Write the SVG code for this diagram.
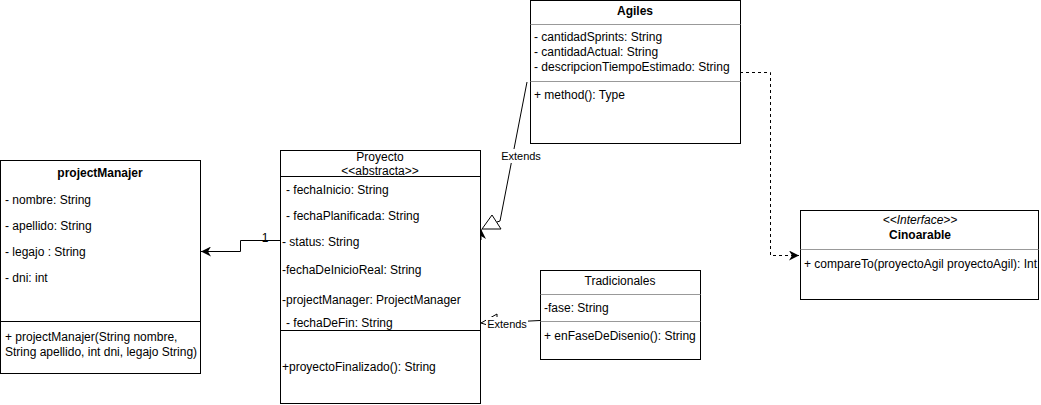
<svg xmlns="http://www.w3.org/2000/svg" width="1041" height="405" viewBox="0 0 1041 405">
<style>
text{font-family:"Liberation Sans",Arial,sans-serif;font-size:12px;fill:#000}
.b{font-weight:bold}
.c{text-anchor:middle}
.i{font-style:italic}
.box{fill:#fff;stroke:#000;stroke-width:1}
.sep{stroke:#999;stroke-width:1}
.sepk{stroke:#000;stroke-width:1}
.ln{fill:none;stroke:#000;stroke-width:1}
.lbl{font-size:11px}
</style>
<defs>
<marker id="arr" viewBox="0 0 10 10" refX="10" refY="5" markerWidth="10" markerHeight="10" markerUnits="userSpaceOnUse" orient="auto">
<path d="M0,0 L10,5 L0,10 L3,5 Z" fill="#000"/>
</marker>
</defs>
<rect width="1041" height="405" fill="#fff"/>
<g id="connectors">
<polyline class="ln" points="280,240.5 240.5,240.5 240.5,251.5 201,251.5" marker-end="url(#arr)"/>
<text x="265" y="242" class="c">1</text>
<polyline class="ln" points="740,72.5 770.5,72.5 770.5,255.5 799,255.5" stroke-dasharray="3,3" marker-end="url(#arr)"/>
<line class="ln" x1="481" y1="240" x2="481" y2="229" marker-end="url(#arr)"/>
<polyline class="ln" points="527,82 500,221 497,222"/>
<polygon points="482,229 492,215 501,229" fill="#fff" stroke="#000"/>
<rect x="501" y="149" width="41" height="14" fill="#fff"/>
<text x="521" y="160" class="c lbl">Extends</text>
<line class="ln" x1="540" y1="320.5" x2="520" y2="321.5"/>
<polygon points="481,323 497,314 497,328" fill="#fff" stroke="#000"/>
<rect x="486" y="317" width="42" height="14" fill="#fff"/>
<text x="507" y="328" class="c lbl">Extends</text>
</g>
<g id="projectManajer">
<rect class="box" x="0.5" y="160.5" width="200" height="213"/>
<text x="100" y="177" class="c b">projectManajer</text>
<text x="5" y="204">- nombre: String</text>
<text x="5" y="230">- apellido: String</text>
<text x="5" y="256">- legajo : String</text>
<text x="5" y="282">- dni: int</text>
<line class="sepk" x1="0.5" y1="321.5" x2="200.5" y2="321.5"/>
<text x="5" y="341">+ projectManajer(String nombre,</text>
<text x="5" y="356">String apellido, int dni, legajo String)</text>
</g>
<g id="Proyecto">
<rect class="box" x="280.5" y="150.5" width="200" height="253"/>
<text x="380" y="161" class="c">Proyecto</text>
<text x="380" y="175" class="c">&lt;&lt;abstracta&gt;&gt;</text>
<line class="sepk" x1="280.5" y1="176.5" x2="480.5" y2="176.5"/>
<text x="286" y="194">- fechaInicio: String</text>
<text x="286" y="220">- fechaPlanificada: String</text>
<text x="282" y="246">- status: String</text>
<text x="282" y="274">-fechaDeInicioReal: String</text>
<text x="282" y="304">-projectManager: ProjectManager</text>
<text x="286" y="327">- fechaDeFin: String</text>
<line class="sepk" x1="280.5" y1="330.5" x2="480.5" y2="330.5"/>
<text x="282" y="371">+proyectoFinalizado(): String</text>
</g>
<g id="Agiles">
<rect class="box" x="530.5" y="0.5" width="210" height="143"/>
<text x="635" y="15" class="c b">Agiles</text>
<line class="sep" x1="530.5" y1="24.5" x2="740.5" y2="24.5"/>
<text x="534" y="41">- cantidadSprints: String</text>
<text x="534" y="56">- cantidadActual: String</text>
<text x="534" y="71">- descripcionTiempoEstimado: String</text>
<line class="sep" x1="530.5" y1="81.5" x2="740.5" y2="81.5"/>
<text x="534" y="99">+ method(): Type</text>
</g>
<g id="Cinoarable">
<rect class="box" x="800.5" y="210.5" width="238" height="89"/>
<text x="920" y="224" class="c i">&lt;&lt;Interface&gt;&gt;</text>
<text x="920" y="239" class="c b">Cinoarable</text>
<line class="sep" x1="800.5" y1="249.5" x2="1038.5" y2="249.5"/>
<text x="804" y="268">+ compareTo(proyectoAgil proyectoAgil): Int</text>
</g>
<g id="Tradicionales">
<rect class="box" x="540.5" y="270.5" width="160" height="89"/>
<text x="620" y="285" class="c">Tradicionales</text>
<line class="sep" x1="540.5" y1="294.5" x2="700.5" y2="294.5"/>
<text x="544" y="312">-fase: String</text>
<line class="sep" x1="540.5" y1="321.5" x2="700.5" y2="321.5"/>
<text x="544" y="340">+ enFaseDeDisenio(): String</text>
</g>
</svg>
